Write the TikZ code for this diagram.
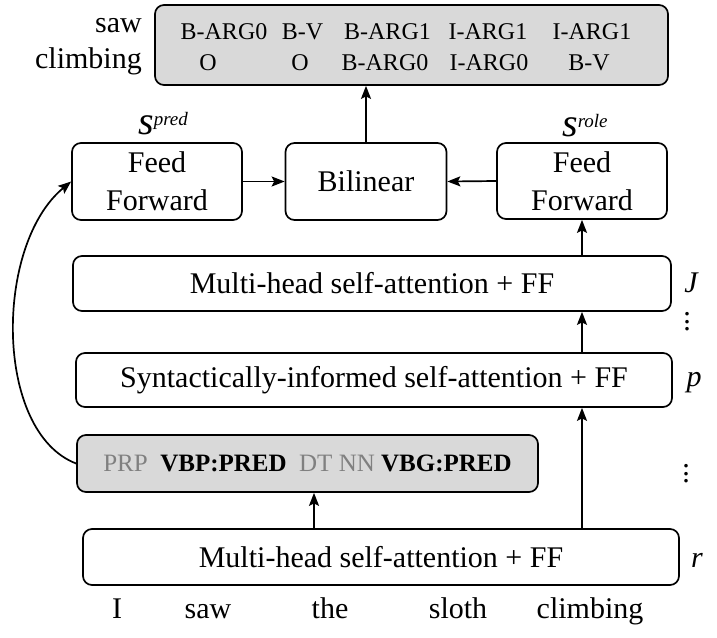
\documentclass[tikz,border=0pt]{standalone}
\usepackage{fontspec}
\setmainfont{Liberation Serif}
\usetikzlibrary{arrows.meta}
\begin{document}
\begin{tikzpicture}[x=1pt,y=-1pt,
  box/.style={draw, line width=1.7pt, rounded corners=9pt, inner sep=0pt, font=\fontsize{30}{38}\selectfont, align=center},
  grybox/.style={box, fill=black!15},
  arr/.style={line width=1.7pt, -{Stealth[length=13pt,width=10pt,inset=2.5pt]}},
  lbl/.style={font=\fontsize{30}{34}\selectfont, inner sep=0pt, anchor=base},
  lyr/.style={font=\fontsize{30}{34}\selectfont\itshape, inner sep=0pt, anchor=base},
  tag/.style={font=\fontsize{24}{28}\selectfont, inner sep=0pt, anchor=base},
  sc/.style={inner sep=0pt, anchor=base west},
  dts/.style={font=\fontsize{30}{7.5}\selectfont, inner sep=0pt, align=center},
]
\useasboundingbox (0,0) rectangle (717,637);
% boxes
\node[grybox, minimum width=513pt, minimum height=80pt] (top) at (411.5,45) {};
\node[box, minimum width=170pt, minimum height=77pt] (ffl) at (157,181.5) {Feed\\Forward};
\node[box, minimum width=161pt, minimum height=77pt] (bil) at (366,181.5) {Bilinear};
\node[box, minimum width=170pt, minimum height=76pt] (ffr) at (582,181) {Feed\\Forward};
\node[box, minimum width=598pt, minimum height=55pt] (J) at (372,283.5) {Multi-head self-attention + FF};
\node[box, minimum width=596pt, minimum height=54pt] (syn) at (374,380) {Syntactically-informed self-attention + FF};
\node[grybox, minimum width=461pt, minimum height=57pt, font=\fontsize{25}{28}\selectfont] (pos) at (307.5,463.5)
  {\textcolor{black!50}{PRP}\ \ \textbf{VBP:PRED}\ \ \textcolor{black!50}{DT NN}\ \textbf{VBG:PRED}};
\node[box, minimum width=596pt, minimum height=56pt] (bot) at (381,557) {Multi-head self-attention + FF};
% output tags
\node[tag] (t11) at (224,39) {B-ARG0};
\node[tag] (t12) at (302.5,39) {B-V};
\node[tag] (t13) at (387.5,39) {B-ARG1};
\node[tag] (t14) at (488,39) {I-ARG1};
\node[tag] (t15) at (592,39) {I-ARG1};
\node[tag] (t21) at (208,70) {O};
\node[tag] (t22) at (300,70) {O};
\node[tag] (t23) at (385,70) {B-ARG0};
\node[tag] (t24) at (489,70) {I-ARG0};
\node[tag] (t25) at (589,70) {B-V};
\node[lbl, anchor=base east] (lsaw) at (142,32) {saw};
\node[lbl, anchor=base east] (lclimb) at (142,68) {climbing};
% score labels
\node[sc] (spred) at (138,134) {\fontsize{40}{44}\selectfont\itshape s\raisebox{9pt}{\fontsize{19}{20}\selectfont\itshape pred}};
\node[sc] (srole) at (562,136) {\fontsize{40}{44}\selectfont\itshape s\raisebox{9pt}{\fontsize{19}{20}\selectfont\itshape role}};
% layer labels
\node[lyr] (lJ) at (691,292) {J};
\node[lyr] (lp) at (694,386) {p};
\node[lyr] (lr) at (697,567) {r};
\node[dts] (d1) at (687,322) {.\\.\\.};
\node[dts] (d2) at (686,474) {.\\.\\.};
% words
\node[lbl] (w1) at (117,618) {I};
\node[lbl] (w2) at (208,618) {saw};
\node[lbl] (w3) at (330,618) {the};
\node[lbl] (w4) at (458,618) {sloth};
\node[lbl] (w5) at (590,618) {climbing};
% arrows
\draw[arr] (bil.north) -- (bil.north |- top.south);
\draw[arr] (ffl.east) -- (bil.west);
\draw[arr] (ffr.west) -- (bil.east);
\draw[arr] (J.north -| ffr.south) -- (ffr.south);
\draw[arr] (syn.north -| ffr.south) -- (J.south -| ffr.south);
\draw[arr] (bot.north -| ffr.south) -- (syn.south -| ffr.south);
\coordinate (pa) at (314,0);
\draw[arr] (bot.north -| pa) -- (pos.south -| pa);
\draw[arr] (pos.west) .. controls (-6,432) and (-6,245) .. (ffl.west);
\end{tikzpicture}
\end{document}
